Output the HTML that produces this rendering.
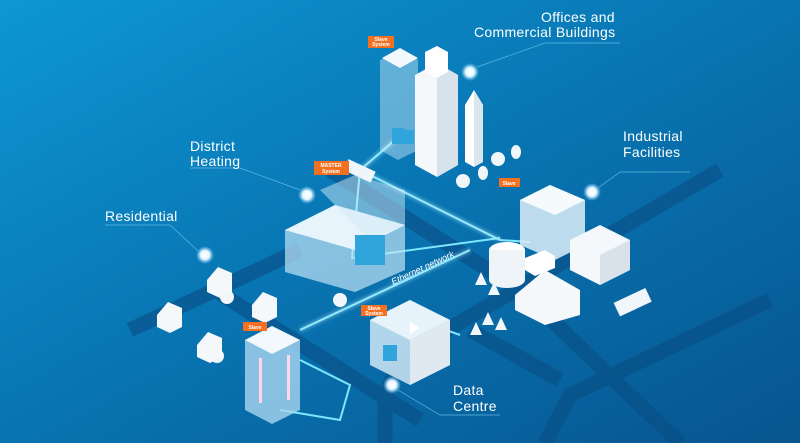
<!DOCTYPE html>
<html><head><style>
html,body{margin:0;padding:0;width:800px;height:443px;overflow:hidden}
svg{display:block}
.l{font-family:"Liberation Sans",sans-serif;fill:#fff;font-size:14px;letter-spacing:0.3px}
.t{font-family:"Liberation Sans",sans-serif;fill:#fff;font-size:5px;font-weight:bold;text-anchor:middle}
</style></head><body>
<svg width="800" height="443" viewBox="0 0 800 443" xmlns="http://www.w3.org/2000/svg">
<defs>
<linearGradient id="bg" x1="0" y1="0" x2="1" y2="1">
<stop offset="0" stop-color="#0d97d3"/><stop offset="0.5" stop-color="#0874b1"/><stop offset="1" stop-color="#07558f"/>
</linearGradient>
<radialGradient id="dot"><stop offset="0" stop-color="#fff"/><stop offset="0.5" stop-color="#e6f6ff"/><stop offset="1" stop-color="#7fd4ff" stop-opacity="0"/></radialGradient>
<filter id="gl"><feGaussianBlur stdDeviation="1.5"/></filter>
</defs>
<rect width="800" height="443" fill="url(#bg)"/>
<!-- roads -->
<g stroke="#0a4e86" stroke-width="15" fill="none" opacity="0.6" stroke-linecap="butt">
<path d="M330,170 L520,290 L680,443"/>
<path d="M720,170 L430,340 Q385,368 385,410 L385,443"/>
<path d="M770,300 L570,395 L545,443"/>
<path d="M215,290 L420,420"/>
<path d="M130,330 L300,250"/>
<path d="M470,330 L560,380"/>
</g>
<!-- cyan network lines -->
<g stroke="#7fe6ff" stroke-width="2" fill="none">
<path d="M395,140 L360,170 L500,240 L530,242"/>
<path d="M360,170 L352,258 L500,238"/>
<path d="M300,330 L470,250"/>
<path d="M300,360 L350,385 L340,420 L280,410"/>
<path d="M390,310 L460,335"/>
</g>
<g stroke="#bff4ff" stroke-width="5" fill="none" opacity="0.35" filter="url(#gl)">
<path d="M395,140 L360,170 L500,240"/><path d="M300,330 L470,250"/>
</g>
<!-- offices -->
<polygon points="380,60 400,50 418,60 418,150 398,160 380,150" fill="#cfeafa" opacity="0.45"/>
<polygon points="382,58 400,48 418,58 400,68" fill="#f2f8fb"/>
<polygon points="415,75 437,63 458,75 458,165 437,177 415,165" fill="#f4f8fb"/>
<polygon points="437,63 458,75 458,165 437,177" fill="#d7e2ea"/>
<polygon points="425,52 437,46 448,52 448,72 437,78 425,72" fill="#fff"/>
<polygon points="465,105 474,90 483,105 483,162 474,167 465,162" fill="#fff"/>
<polygon points="474,90 483,105 483,162 474,167" fill="#dbe5ec"/>
<rect x="392" y="128" width="12" height="16" fill="#2fa5dc"/>
<rect x="404" y="130" width="10" height="14" fill="#2fa5dc"/>
<!-- trees -->
<g fill="#f0f6fa">
<circle cx="463" cy="181" r="7"/><circle cx="498" cy="159" r="7"/><ellipse cx="483" cy="173" rx="5" ry="7"/><ellipse cx="516" cy="152" rx="5" ry="7"/>
<circle cx="340" cy="300" r="7"/><circle cx="227" cy="297" r="7"/><circle cx="217" cy="356" r="7"/>
<polygon points="475,285 481,272 487,285"/><polygon points="488,295 494,282 500,295"/><polygon points="470,335 476,322 482,335"/><polygon points="482,325 488,312 494,325"/><polygon points="495,330 501,317 507,330"/>
</g>
<!-- district heating -->
<polygon points="285,230 335,205 405,225 405,270 355,292 285,272" fill="#bfe3f5" opacity="0.7"/>
<polygon points="285,230 335,205 405,225 355,250" fill="#e8f4fb"/>
<polygon points="320,190 355,175 405,190 405,225 370,240" fill="#cfe9f7" opacity="0.5"/>
<rect x="355" y="235" width="30" height="30" fill="#2fa5dc"/>
<!-- industrial -->
<polygon points="520,200 550,185 585,200 585,245 555,260 520,245" fill="#dceef8" opacity="0.85"/>
<polygon points="520,200 550,185 585,200 555,215" fill="#f5fafd"/>
<ellipse cx="507" cy="250" rx="18" ry="8" fill="#fff"/><rect x="489" y="250" width="36" height="30" fill="#eef4f8"/><ellipse cx="507" cy="280" rx="18" ry="8" fill="#eef4f8"/>
<polygon points="570,240 600,225 630,240 630,270 600,285 570,270" fill="#f4f8fb"/>
<polygon points="600,255 630,240 630,270 600,285" fill="#d7e2ea"/>
<polygon points="515,295 545,270 580,290 580,315 545,325 515,310" fill="#f4f8fb"/>
<polygon points="525,258 545,250 555,256 555,268 535,276 525,270" fill="#fff"/>
<rect x="615" y="295" width="35" height="15" fill="#f1f6fa" transform="rotate(-25 632 302)"/>
<!-- data centre -->
<polygon points="370,320 410,300 450,320 450,365 410,385 370,365" fill="#cfe8f6" opacity="0.85"/>
<polygon points="370,320 410,300 450,320 410,340" fill="#e6f3fa"/>
<polygon points="410,340 450,320 450,365 410,385" fill="#e0e9ef"/>
<polygon points="410,322 420,328 410,334" fill="#fff"/>
<rect x="383" y="345" width="14" height="16" fill="#2fa5dc"/>
<!-- residential tower -->
<polygon points="245,340 272,326 300,340 300,410 272,424 245,410" fill="#a9d6ef" opacity="0.8"/>
<polygon points="245,340 272,326 300,340 272,354" fill="#f2f8fb"/>
<g fill="#ffd8e8"><rect x="259" y="358" width="3" height="45"/><rect x="287" y="355" width="3" height="45"/></g>
<!-- houses -->
<g fill="#f4f8fb">
<polygon points="207,280 218,267 232,273 232,292 220,298 207,292"/>
<polygon points="157,315 168,302 182,308 182,327 170,333 157,327"/>
<polygon points="197,345 208,332 222,338 222,357 210,363 197,357"/>
<polygon points="252,305 263,292 277,298 277,317 265,323 252,317"/>
</g>
<rect x="345" y="165" width="30" height="12" fill="#eef6fb" transform="rotate(25 360 170)"/>
<!-- glowing dots -->
<g fill="url(#dot)">
<circle cx="470" cy="72" r="9"/><circle cx="592" cy="192" r="9"/><circle cx="307" cy="195" r="9"/><circle cx="205" cy="255" r="9"/><circle cx="392" cy="385" r="9"/>
</g>
<!-- leader lines -->
<g stroke="#5fb8e0" stroke-width="0.7" fill="none">
<path d="M477,67 L545,43 L620,43"/><path d="M598,188 L620,172 L690,172"/><path d="M300,190 L240,168 L190,168"/><path d="M198,251 L170,225 L105,225"/><path d="M398,390 L440,415 L500,415"/>
</g>
<!-- labels -->
<text class="l" x="541" y="22">Offices and</text>
<text class="l" x="474" y="37">Commercial Buildings</text>
<text class="l" x="623" y="141">Industrial</text>
<text class="l" x="623" y="157">Facilities</text>
<text class="l" x="190" y="151">District</text>
<text class="l" x="190" y="166">Heating</text>
<text class="l" x="105" y="221">Residential</text>
<text class="l" x="453" y="395">Data</text>
<text class="l" x="453" y="411">Centre</text>
<text x="393" y="285" font-family="Liberation Sans,sans-serif" font-size="9" font-style="italic" fill="#fff" transform="rotate(-25 393 285)">Ethernet network</text>
<!-- tags -->
<g fill="#f37021">
<rect x="368" y="36" width="26" height="12"/><rect x="314" y="161" width="35" height="14"/><rect x="499" y="178" width="21" height="9"/><rect x="361" y="305" width="26" height="11"/><rect x="243" y="322" width="24" height="9"/>
</g>
<text class="t" x="381" y="41">Slave</text><text class="t" x="381" y="46">System</text>
<text class="t" x="331" y="167" font-size="6">MASTER</text><text class="t" x="331" y="173" font-size="6">System</text>
<text class="t" x="509" y="185">Slave</text>
<text class="t" x="374" y="310">Slave</text><text class="t" x="374" y="315">System</text>
<text class="t" x="255" y="329">Slave</text>
</svg>
</body></html>
